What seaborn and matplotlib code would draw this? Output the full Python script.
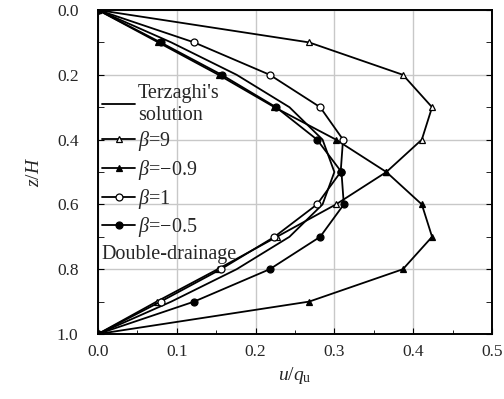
import matplotlib
matplotlib.use('Agg')
import matplotlib.pyplot as plt
import seaborn as sns
import numpy as np
from matplotlib.ticker import MultipleLocator

# depth ratio z/H
z = [0.0, 0.1, 0.2, 0.3, 0.4, 0.5, 0.6, 0.7, 0.8, 0.9, 1.0]

# excess pore pressure u/q_u
terzaghi = [0, 0.093, 0.176, 0.243, 0.285, 0.300, 0.285, 0.243, 0.176, 0.093, 0]
beta_9 = [0, 0.268, 0.387, 0.424, 0.411, 0.366, 0.302, 0.227, 0.152, 0.0745, 0]
beta_m09 = [0, 0.0766, 0.153, 0.224, 0.302, 0.366, 0.411, 0.424, 0.387, 0.268, 0]
beta_1 = [0, 0.122, 0.218, 0.282, 0.311, 0.308, 0.278, 0.224, 0.156, 0.0795, 0]
beta_m05 = [0, 0.0795, 0.157, 0.226, 0.278, 0.309, 0.312, 0.282, 0.218, 0.122, 0]

sns.set_style('ticks')
plt.rcParams['font.family'] = ['Liberation Serif', 'DejaVu Serif']
plt.rcParams['mathtext.fontset'] = 'custom'
plt.rcParams['mathtext.rm'] = 'Liberation Serif'
plt.rcParams['mathtext.it'] = 'Liberation Serif:italic'

fig = plt.figure(figsize=(5.04, 3.99), dpi=100)
ax = fig.add_axes([0.1944, 0.1629, 0.7817, 0.812])

lw = 1.3
ms = 5.0
sns.lineplot(x=terzaghi, y=z, sort=False, estimator=None, ax=ax, color='black',
             linewidth=lw, label="Terzaghi's\nsolution")
sns.lineplot(x=beta_9, y=z, sort=False, estimator=None, ax=ax, color='black',
             linewidth=lw, marker='^', markersize=ms, markerfacecolor='white',
             markeredgecolor='black', markeredgewidth=0.9, label=r'$\beta$=9')
sns.lineplot(x=beta_m09, y=z, sort=False, estimator=None, ax=ax, color='black',
             linewidth=lw, marker='^', markersize=ms, markerfacecolor='black',
             markeredgecolor='black', markeredgewidth=0.9, label=r'$\beta$=−0.9')
sns.lineplot(x=beta_1, y=z, sort=False, estimator=None, ax=ax, color='black',
             linewidth=lw, marker='o', markersize=ms, markerfacecolor='white',
             markeredgecolor='black', markeredgewidth=0.9, label=r'$\beta$=1')
sns.lineplot(x=beta_m05, y=z, sort=False, estimator=None, ax=ax, color='black',
             linewidth=lw, marker='o', markersize=ms, markerfacecolor='black',
             markeredgecolor='black', markeredgewidth=0.9, label=r'$\beta$=−0.5')

ax.set_xlim(0, 0.5)
ax.set_ylim(1.0, 0.0)
ax.xaxis.set_major_locator(MultipleLocator(0.1))
ax.xaxis.set_minor_locator(MultipleLocator(0.05))
ax.yaxis.set_major_locator(MultipleLocator(0.2))
ax.yaxis.set_minor_locator(MultipleLocator(0.1))
ax.xaxis.set_major_formatter(plt.FormatStrFormatter('%.1f'))
ax.yaxis.set_major_formatter(plt.FormatStrFormatter('%.1f'))
ax.grid(True, which='major', color='#c8c8c8', linewidth=1.0)
ax.set_axisbelow(True)

ax.tick_params(axis='both', which='both', direction='in', labelsize=12.5,
               color='black')
ax.tick_params(axis='x', which='major', length=4, pad=7)
ax.tick_params(axis='x', which='minor', length=3)
ax.tick_params(axis='y', which='both', length=4, pad=14, right=True)
ax.tick_params(axis='y', which='minor', right=True)

for s in ax.spines.values():
    s.set_visible(True)
    s.set_color('black')
    s.set_linewidth(1.4)

ax.set_xlabel(r'$u$/$q_{\rm u}$', fontsize=14, labelpad=4)
ax.set_ylabel(r'$z$/$H$', fontsize=14, labelpad=10)

leg = ax.legend(loc='upper left', bbox_to_anchor=(0.01, 0.772), frameon=False,
                fontsize=14.5, handlelength=1.65, handletextpad=0.15,
                labelspacing=0.23, borderpad=0, borderaxespad=0)
ax.text(0.01, 0.245, 'Double-drainage', transform=ax.transAxes, fontsize=14.5,
        ha='left', va='center')

plt.savefig('out.png', dpi=100)
plt.close()
